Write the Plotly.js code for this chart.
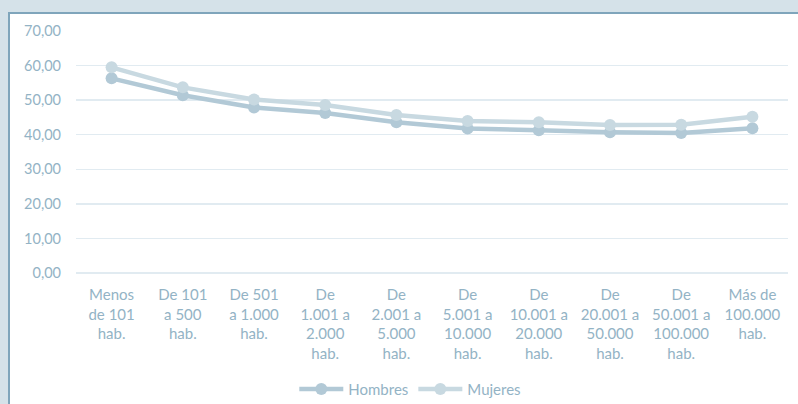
<!DOCTYPE html>
<html>
<head>
<meta charset="utf-8">
<script src="https://cdn.plot.ly/plotly-3.0.1.min.js"></script>
<style>
  html, body { margin: 0; padding: 0; background: #d5e2e9; width: 798px; height: 404px; overflow: hidden; }
  #frame { position: absolute; left: 8px; top: 12px; width: 790px; height: 392px;
           border-top: 2px solid #7fa5bb; border-left: 2px solid #7fa5bb; background: #ffffff; }
  #chart { width: 788px; height: 390px; }
</style>
</head>
<body>
<div id="frame"><div id="chart"></div></div>
<script>
const categories = [
  "Menos<br>de 101<br>hab.",
  "De 101<br>a 500<br>hab.",
  "De 501<br>a 1.000<br>hab.",
  "De<br>1.001 a<br>2.000<br>hab.",
  "De<br>2.001 a<br>5.000<br>hab.",
  "De<br>5.001 a<br>10.000<br>hab.",
  "De<br>10.001 a<br>20.000<br>hab.",
  "De<br>20.001 a<br>50.000<br>hab.",
  "De<br>50.001 a<br>100.000<br>hab.",
  "Más de<br>100.000<br>hab."
];
const hombres = [56.3, 51.4, 47.9, 46.3, 43.6, 41.8, 41.3, 40.7, 40.5, 41.9];
const mujeres = [59.5, 53.7, 50.2, 48.6, 45.7, 44.0, 43.6, 42.8, 42.9, 45.2];
const yTicks = [0, 10, 20, 30, 40, 50, 60, 70];

const labelColor = "#93b3c5";
const fontFam = "Lato, 'Open Sans', sans-serif";

const traces = [
  { x: categories, y: hombres, name: "Hombres", type: "scatter", mode: "lines+markers",
    line: { color: "#b2c9d6", width: 4.5 }, marker: { color: "#b2c9d6", size: 12 } },
  { x: categories, y: mujeres, name: "Mujeres", type: "scatter", mode: "lines+markers",
    line: { color: "#c8d9e1", width: 4.5 }, marker: { color: "#c8d9e1", size: 12 } }
];

const layout = {
  width: 788, height: 390,
  margin: { l: 66, r: 10, t: 17, b: 131 },
  paper_bgcolor: "#ffffff", plot_bgcolor: "#ffffff",
  separators: ",.",
  font: { family: fontFam, size: 13, color: labelColor },
  showlegend: true,
  legend: { orientation: "h", x: 0.508, xanchor: "center", xref: "container",
            y: 0.038, yanchor: "middle", yref: "container",
            font: { family: fontFam, size: 15, color: labelColor }, itemwidth: 44 },
  xaxis: { type: "category", range: [-0.5, 9.5], showgrid: false, zeroline: false,
           showline: false, ticks: "", ticklabelstandoff: 11,
           tickfont: { family: fontFam, size: 15, color: labelColor },
           tickangle: 0, automargin: false },
  yaxis: { range: [0, 70], tickvals: yTicks, tickformat: ".2f", showgrid: true,
           gridcolor: "#e1ebf1", gridwidth: 1.5, zeroline: true, zerolinecolor: "#e1ebf1", zerolinewidth: 1.5,
           showline: false, ticks: "", ticklabelstandoff: 14,
           tickfont: { family: fontFam, size: 14.5, color: labelColor }, automargin: false }
};

Plotly.newPlot("chart", traces, layout, { displayModeBar: false, staticPlot: true });
</script>
</body>
</html>
